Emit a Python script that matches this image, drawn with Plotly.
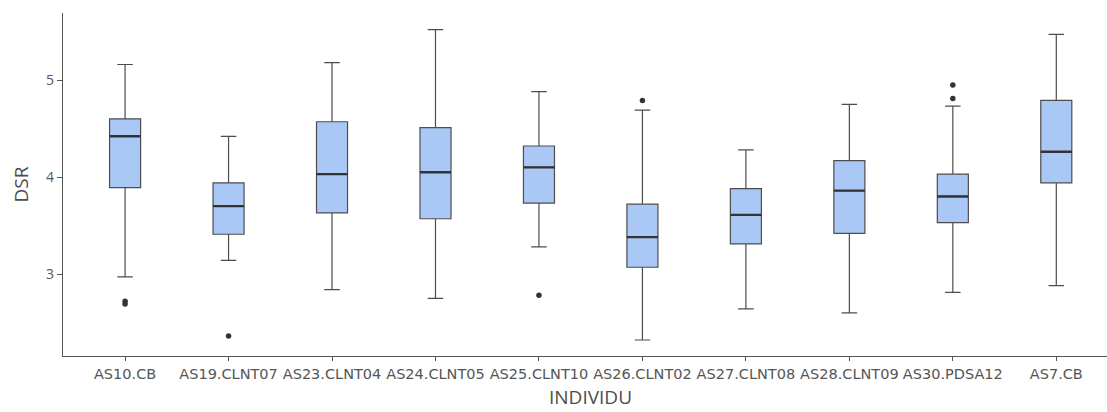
import plotly.graph_objects as go

categories = ["AS10.CB", "AS19.CLNT07", "AS23.CLNT04", "AS24.CLNT05", "AS25.CLNT10",
              "AS26.CLNT02", "AS27.CLNT08", "AS28.CLNT09", "AS30.PDSA12", "AS7.CB"]
lower_whisker = [2.97, 3.14, 2.84, 2.75, 3.28, 2.32, 2.64, 2.60, 2.81, 2.88]
q1 = [3.89, 3.41, 3.63, 3.57, 3.73, 3.07, 3.31, 3.42, 3.53, 3.94]
median = [4.42, 3.70, 4.03, 4.05, 4.10, 3.38, 3.61, 3.86, 3.80, 4.26]
q3 = [4.60, 3.94, 4.57, 4.51, 4.32, 3.72, 3.88, 4.17, 4.03, 4.79]
upper_whisker = [5.16, 4.42, 5.18, 5.52, 4.88, 4.69, 4.28, 4.75, 4.73, 5.47]

outlier_cat = ["AS10.CB", "AS10.CB", "AS19.CLNT07", "AS25.CLNT10", "AS26.CLNT02",
               "AS30.PDSA12", "AS30.PDSA12"]
outlier_val = [2.72, 2.69, 2.36, 2.78, 4.79, 4.81, 4.95]

fig = go.Figure()
fig.add_trace(go.Box(
    x=categories, q1=q1, median=median, q3=q3,
    lowerfence=lower_whisker, upperfence=upper_whisker,
    fillcolor="#aac8f5", line=dict(color="#4d4d4d", width=1.2),
    width=0.3, boxpoints=False, showlegend=False, hoverinfo="skip",
))
fig.add_trace(go.Box(
    x=categories, q1=median, median=median, q3=median,
    lowerfence=median, upperfence=median,
    fillcolor="rgba(0,0,0,0)", line=dict(color="#333333", width=2.4),
    width=0.3, boxpoints=False, showlegend=False, hoverinfo="skip",
))
fig.add_trace(go.Scatter(
    x=outlier_cat, y=outlier_val, mode="markers",
    marker=dict(color="#333333", size=5.5),
    showlegend=False, hoverinfo="skip",
))

fig.update_layout(
    width=1107, height=412,
    margin=dict(l=63, r=0, t=13, b=56),
    plot_bgcolor="white", paper_bgcolor="white",
    boxmode="overlay",
    xaxis=dict(
        type="category", categoryorder="array", categoryarray=categories,
        range=[-0.6, 9.49], showgrid=False, zeroline=False,
        showline=True, linecolor="#555555", linewidth=1.2,
        ticks="outside", ticklen=4, tickcolor="#555555", tickwidth=1.2,
        tickangle=0,
        tickfont=dict(family="DejaVu Sans", size=14.5, color="#555555"),
    ),
    yaxis=dict(
        range=[2.155, 5.691], tickvals=[3, 4, 5], ticktext=["3", "4", "5"],
        showgrid=False, zeroline=False,
        showline=True, linecolor="#555555", linewidth=1.2,
        ticks="outside", ticklen=5, tickcolor="#555555", tickwidth=1.2,
        tickfont=dict(family="Open Sans", size=14, color="#555555"),
    ),
    annotations=[
        dict(text="INDIVIDU", xref="x", x=4.5, yref="paper", y=-(411 - 356) / 343,
             xanchor="center", yanchor="bottom", showarrow=False, borderpad=0,
             font=dict(family="Open Sans", size=19, color="#4d4d4d")),
        dict(text="DSR", xref="paper", x=(20 - 63) / 1044, yref="paper", y=0.5,
             xanchor="center", yanchor="middle", textangle=-90, showarrow=False,
             font=dict(family="Open Sans", size=19, color="#4d4d4d")),
    ],
)

fig.write_html("out.html", config={"displayModeBar": False},
               post_script="document.body.style.margin='0';document.body.style.overflow='hidden';")
